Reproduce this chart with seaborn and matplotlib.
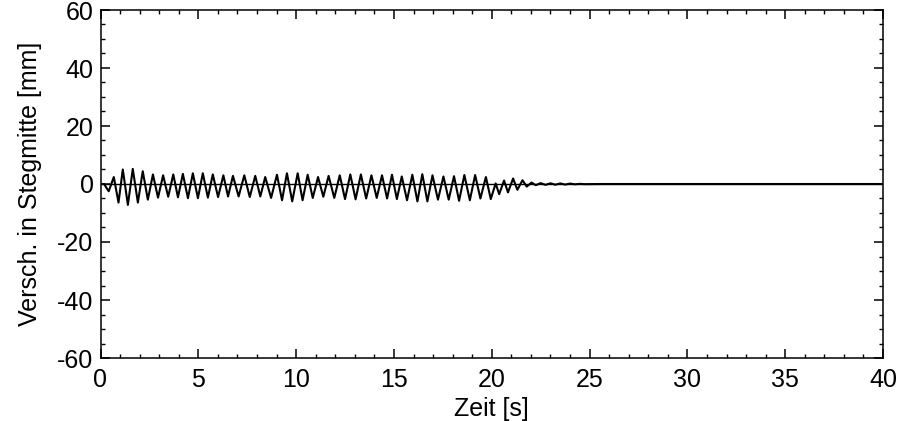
import numpy as np
import pandas as pd
import matplotlib
matplotlib.use("Agg")
import matplotlib.pyplot as plt
from matplotlib.ticker import MultipleLocator
import seaborn as sns

# Extrema (time [s], displacement [mm])
start_t = [0.0, 0.18]
start_v = [0.0, 0.0]

peak_t = [0.68, 1.14, 1.65, 2.16, 2.68, 3.20, 3.72, 4.21, 4.72, 5.23, 5.74, 6.28,
          6.77, 7.35, 7.91, 8.42, 9.02, 9.53, 10.08, 10.59, 11.12, 11.66, 12.23,
          12.77, 13.31, 13.85, 14.39, 14.90, 15.40, 15.94, 16.45, 16.97, 17.53,
          18.07, 18.60, 19.15, 19.70, 20.20, 20.63, 21.09, 21.57, 22.03, 22.50,
          23.00, 23.50, 24.00, 24.50]
peak_v = [2.4, 5.0, 5.2, 4.4, 3.3, 3.0, 3.3, 3.5, 3.7, 3.7, 3.3, 3.0,
          2.8, 3.0, 2.8, 2.4, 3.2, 3.7, 3.7, 3.2, 2.4, 2.8, 3.0,
          3.3, 3.3, 3.0, 3.0, 3.2, 2.6, 3.2, 3.4, 3.0, 2.6,
          2.7, 3.1, 3.1, 2.4, 0.2, 1.2, 1.9, 1.3, 0.5, 0.3,
          0.25, 0.2, 0.15, 0.05]

trough_t = [0.42, 0.92, 1.40, 1.91, 2.42, 2.94, 3.46, 3.96, 4.47, 4.98, 5.49, 6.01,
            6.52, 7.06, 7.63, 8.17, 8.72, 9.28, 9.80, 10.33, 10.85, 11.39, 11.95,
            12.50, 13.04, 13.58, 14.12, 14.65, 15.15, 15.67, 16.20, 16.71, 17.25,
            17.80, 18.33, 18.88, 19.42, 19.95, 20.38, 20.83, 21.31, 21.79, 22.25,
            22.75, 23.25, 23.75, 24.25, 24.75]
trough_v = [-2.5, -6.4, -7.2, -6.4, -5.4, -4.7, -4.4, -4.6, -4.9, -4.9, -4.7, -4.5,
            -4.3, -4.3, -4.5, -4.3, -4.8, -5.6, -6.0, -5.6, -4.8, -4.4, -4.8,
            -5.2, -5.3, -5.0, -4.8, -5.0, -5.2, -5.6, -6.0, -6.0, -5.4,
            -5.4, -5.8, -5.6, -5.0, -5.2, -3.5, -2.9, -2.0, -0.9, -0.4,
            -0.3, -0.25, -0.2, -0.1, -0.05]

end_t = [25.5, 40.0]
end_v = [0.0, 0.0]

x_ticks = [0, 5, 10, 15, 20, 25, 30, 35, 40]
y_ticks = [-60, -40, -20, 0, 20, 40, 60]

df = pd.DataFrame({
    "t": start_t + peak_t + trough_t + end_t,
    "v": start_v + peak_v + trough_v + end_v,
}).sort_values("t").reset_index(drop=True)

sns.set_theme(style="ticks")
plt.rcParams["font.family"] = ["Liberation Sans", "DejaVu Sans"]
plt.rcParams["axes.unicode_minus"] = False

fig = plt.figure(figsize=(8.99, 4.21), dpi=100)
ax = fig.add_axes([100.5 / 899, 1 - 358 / 421, (883 - 100.5) / 899, (358 - 10) / 421])

ax.axhline(0, color="black", lw=1.0, zorder=1)
sns.lineplot(data=df, x="t", y="v", ax=ax, color="black", lw=1.5,
             sort=False, estimator=None, zorder=2)

ax.set_xlim(0, 40)
ax.set_ylim(-60, 60)
ax.set_xticks(x_ticks)
ax.set_yticks(y_ticks)
ax.xaxis.set_minor_locator(MultipleLocator(1))
ax.yaxis.set_minor_locator(MultipleLocator(5))
ax.tick_params(which="both", direction="in", top=True, right=True, color="black",
               labelsize=18, labelcolor="black")
ax.tick_params(which="major", length=6.5, width=1.1)
ax.tick_params(which="minor", length=3.2, width=1.0)
ax.tick_params(axis="x", pad=7)
ax.tick_params(axis="y", pad=5)
for s in ax.spines.values():
    s.set_visible(True)
    s.set_color("black")
    s.set_linewidth(1.1)

ax.set_xlabel("Zeit [s]", fontsize=18, color="black", labelpad=4)
ax.set_ylabel("Versch. in Stegmitte [mm]", fontsize=18, color="black", labelpad=11)

fig.savefig("out.png", dpi=100, facecolor="white")
